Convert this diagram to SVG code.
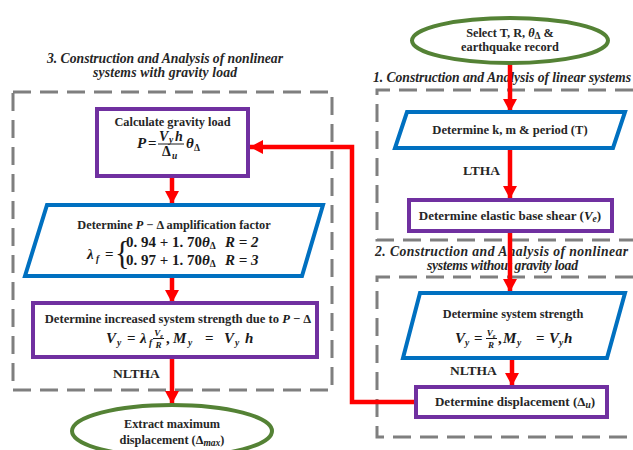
<svg xmlns="http://www.w3.org/2000/svg" width="633" height="450" viewBox="0 0 633 450">
<defs>
<marker id="ah" markerUnits="userSpaceOnUse" markerWidth="16" markerHeight="16" refX="13" refY="8" orient="auto">
<path d="M0,1 L13,8 L0,15 Z" fill="#ff0000"/>
</marker>
<style>
.dash{fill:none;stroke:#7f7f7f;stroke-width:3;stroke-dasharray:18 9}
.ell{fill:#ffffff;stroke:#548235;stroke-width:4}
.par{fill:#ffffff;stroke:#0070c0;stroke-width:4;stroke-linejoin:miter}
.box{fill:#ffffff;stroke:#7030a0;stroke-width:4}
.arr{fill:none;stroke:#ff0000;stroke-width:4.5;marker-end:url(#ah)}
.t{font-family:"Liberation Serif","Times New Roman",serif;font-weight:bold;font-size:12.3px;fill:#262626}
.c{text-anchor:middle}
.title{font-family:"Liberation Serif","Times New Roman",serif;font-weight:bold;font-style:italic;font-size:13.7px;fill:#262626}
.lbl{font-family:"Liberation Serif","Times New Roman",serif;font-weight:bold;font-size:13.5px;fill:#262626}
.m{font-family:"Liberation Serif","Times New Roman",serif;font-weight:bold;font-style:italic;font-size:15px;fill:#1a1a1a}
.n{font-family:"Liberation Serif","Times New Roman",serif;font-weight:bold;font-size:15px;fill:#1a1a1a}
.s{font-size:9.5px}
.fs{font-family:"Liberation Serif","Times New Roman",serif;font-weight:bold;font-style:italic;font-size:9px;fill:#1a1a1a;text-anchor:middle}
.up{font-style:normal}
.fr{stroke:#1a1a1a;stroke-width:1}
</style>
</defs>

<g id="sections">
<rect class="dash" x="13" y="92" width="319" height="298"/>
<path class="dash" d="M633,90 H377 V240 H633"/>
<path class="dash" d="M633,277 H377 V437 H633"/>
<text class="title" x="47" y="63" textLength="236">3. Construction and Analysis of nonlinear</text>
<text class="title" x="93" y="77" textLength="144">systems with gravity load</text>
<text class="title" x="373" y="82" textLength="258">1. Construction and Analysis of linear systems</text>
<text class="title" x="375" y="256" textLength="253">2. Construction and Analysis of nonlinear</text>
<text class="title" x="427" y="270" textLength="151">systems without gravity load</text>
</g>

<g id="connectors">
<line class="arr" x1="510" y1="63" x2="510" y2="112"/>
<line class="arr" x1="510" y1="148" x2="510" y2="199"/>
<line class="arr" x1="510" y1="231" x2="510" y2="292"/>
<line class="arr" x1="512" y1="358" x2="512" y2="386"/>
<line class="arr" x1="172" y1="176" x2="172" y2="204"/>
<line class="arr" x1="172" y1="277" x2="172" y2="303"/>
<line class="arr" x1="172" y1="357" x2="172" y2="404"/>
<polyline class="arr" points="416,402 352,402 352,147 250,147"/>
<text class="lbl" x="463" y="175">LTHA</text>
<text class="lbl" x="450" y="375">NLTHA</text>
<text class="lbl" x="113" y="378">NLTHA</text>
</g>

<g id="start">
<ellipse class="ell" cx="510" cy="40.5" rx="98" ry="22.5"/>
<text class="t c" x="510" y="37">Select T, R, <tspan class="m" style="font-size:12.3px">θ</tspan><tspan class="s" dy="2">Δ</tspan><tspan dy="-2"> &amp;</tspan></text>
<text class="t c" x="510" y="51">earthquake record</text>
</g>

<g id="kmT">
<polygon class="par" points="407,112 625,112 613,148 395,148"/>
<text class="t c" x="510" y="134" style="font-size:12.6px">Determine k, m &amp; period (T)</text>
</g>

<g id="Ve">
<rect class="box" x="409" y="200" width="203" height="31"/>
<text class="t c" x="510" y="220" style="font-size:13px">Determine elastic base shear (<tspan class="m" style="font-size:13px">V</tspan><tspan class="m s" dy="2">e</tspan><tspan dy="-2">)</tspan></text>
</g>

<g id="strength">
<polygon class="par" points="420,293 625,293 607,358 403,358"/>
<text class="t c" x="513" y="318">Determine system strength</text>
<text class="m" x="455" y="343">V</text><text class="m s" x="465" y="346">y</text>
<text class="n" x="474" y="343">=</text>
<text class="fs" x="491" y="336">V<tspan style="font-size:6px" dy="1.5">e</tspan></text>
<line class="fr" x1="486" y1="338.5" x2="497" y2="338.5"/>
<text class="fs" x="491" y="347.5">R</text>
<text class="n" x="498" y="343">,</text>
<text class="m" x="503" y="343">M</text><text class="m s" x="517" y="346">y</text>
<text class="n" x="536" y="343">=</text>
<text class="m" x="549" y="343">V</text><text class="m s" x="559" y="346">y</text>
<text class="m" x="564" y="343">h</text>
</g>

<g id="disp">
<rect class="box" x="416" y="387" width="191" height="30"/>
<text class="t c" x="515" y="406" style="font-size:13px">Determine displacement (Δ<tspan class="m s" dy="2">u</tspan><tspan dy="-2">)</tspan></text>
</g>

<g id="gravity">
<rect class="box" x="97" y="109" width="151" height="67"/>
<text class="t c" x="172.5" y="126">Calculate gravity load</text>
<text class="m" x="137" y="147.5">P</text>
<text class="n" x="148" y="147.5">=</text>
<text class="m" x="159" y="140.5" style="font-size:14px">V</text><text class="m s" x="169" y="143">y</text>
<text class="m" x="175" y="140.5" style="font-size:14px">h</text>
<line class="fr" x1="158" y1="144" x2="184" y2="144"/>
<text class="n" x="162" y="156" style="font-size:14px">Δ</text><text class="m s" x="172" y="158.5">u</text>
<text class="m" x="186" y="147.5">θ</text><text class="n s" x="194" y="150.5">Δ</text>
</g>

<g id="amplification">
<polygon class="par" points="47,205 323,205 302,276 25,276"/>
<text class="t c" x="174" y="229">Determine <tspan class="m" style="font-size:12.3px">P</tspan> − Δ amplification factor</text>
<text class="m" x="87" y="259">λ</text><text class="m s" x="96" y="262">f</text>
<text class="n" x="105" y="259">=</text>
<text class="n" x="115" y="263" style="font-size:30px;font-weight:normal" transform="translate(115 258) scale(1 1.15) translate(-115 -258)">{</text>
<text class="n" x="126" y="247">0. 94 + 1. 70<tspan class="m">θ</tspan><tspan class="s" dy="2">Δ</tspan></text>
<text class="m" x="225" y="247">R <tspan class="n">= 2</tspan></text>
<text class="n" x="126" y="265">0. 97 + 1. 70<tspan class="m">θ</tspan><tspan class="s" dy="2">Δ</tspan></text>
<text class="m" x="225" y="265">R <tspan class="n">= 3</tspan></text>
</g>

<g id="increased">
<rect class="box" x="33" y="303" width="284" height="54"/>
<text class="t c" x="178" y="323" style="font-size:12.6px">Determine increased system strength due to <tspan class="m" style="font-size:12.6px">P</tspan> − Δ</text>
<text class="m" x="106" y="343">V</text><text class="m s" x="117" y="346">y</text>
<text class="n" x="127" y="343">=</text>
<text class="m" x="140" y="343">λ</text><text class="m s" x="149" y="346">f</text>
<text class="fs" x="158.5" y="336">V<tspan style="font-size:6px" dy="1.5">e</tspan></text>
<line class="fr" x1="153" y1="338.5" x2="164" y2="338.5"/>
<text class="fs" x="158.5" y="347.5">R</text>
<text class="n" x="166" y="343">,</text>
<text class="m" x="173" y="343">M</text><text class="m s" x="188" y="346">y</text>
<text class="n" x="205" y="343">=</text>
<text class="m" x="224" y="343">V</text><text class="m s" x="235" y="346">y</text>
<text class="m" x="245" y="343">h</text>
</g>

<g id="end">
<ellipse class="ell" cx="172" cy="431" rx="100" ry="26"/>
<text class="t c" x="172" y="428">Extract maximum</text>
<text class="t c" x="172" y="444">displacement (<tspan class="n" style="font-size:12.3px">Δ</tspan><tspan class="m s" dy="2">max</tspan><tspan dy="-2">)</tspan></text>
</g>
</svg>
